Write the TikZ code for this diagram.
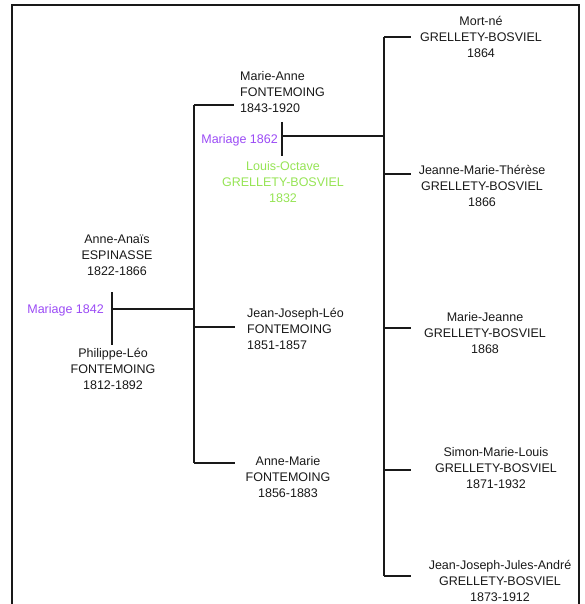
\documentclass[tikz,border=0pt]{standalone}
\usepackage{fontspec}
\setmainfont{Liberation Sans}
\definecolor{mariage}{RGB}{155,75,245}
\definecolor{conjoint}{RGB}{150,228,85}

\begin{document}
\begin{tikzpicture}[x=1pt, y=-1pt]
  \tikzset{
    personne/.style={align=center, inner sep=0pt, text=black!90, font=\fontsize{12.5}{16}\selectfont},
    gauche/.style={personne, align=left, anchor=west},
    noce/.style={anchor=east, inner sep=0pt, text=mariage, font=\fontsize{12.5}{16}\selectfont},
    lien/.style={line width=1.7pt, black!90}
  }
  \useasboundingbox (0,0) rectangle (585,604);

  % Cadre
  \draw[line width=2pt, black!90] (11.5,5) rectangle (578.5,640);

  % Couple 1842
  \node[personne] (anais) at (117,255) {Anne-Anaïs\\ESPINASSE\\1822-1866};
  \node[personne] (philippe) at (113,369) {Philippe-Léo\\FONTEMOING\\1812-1892};
  \node[noce] (mar1842) at (104,310) {Mariage 1842};

  % Enfants FONTEMOING
  \node[gauche] (marieanne) at (240,92) {Marie-Anne\\FONTEMOING\\1843-1920};
  \node[gauche] (jjleo) at (247,329) {Jean-Joseph-Léo\\FONTEMOING\\1851-1857};
  \node[personne] (annemarie) at (288,477) {Anne-Marie\\FONTEMOING\\1856-1883};

  % Couple 1862
  \node[noce] (mar1862) at (278,140) {Mariage 1862};
  \node[personne, text=conjoint] (louis) at (283,182) {Louis-Octave\\GRELLETY-BOSVIEL\\1832};

  % Enfants GRELLETY-BOSVIEL
  \node[personne] (mortne) at (481,37) {Mort-né\\GRELLETY-BOSVIEL\\1864};
  \node[personne] (jmtherese) at (482,186) {Jeanne-Marie-Thérèse\\GRELLETY-BOSVIEL\\1866};
  \node[personne] (mariejeanne) at (485,333) {Marie-Jeanne\\GRELLETY-BOSVIEL\\1868};
  \node[personne] (simon) at (496,468) {Simon-Marie-Louis\\GRELLETY-BOSVIEL\\1871-1932};
  \node[personne] (jjja) at (500,581) {Jean-Joseph-Jules-André\\GRELLETY-BOSVIEL\\1873-1912};

  % Points de jonction
  \coordinate (m42haut) at (112,292);
  \coordinate (m42bas) at (112,345);
  \coordinate (m42) at (112,309);
  \coordinate (f42) at (194,309);
  \coordinate (fhaut) at (194,105);
  \coordinate (fbas) at (194,463);
  \coordinate (m62haut) at (282,122);
  \coordinate (m62bas) at (282,156);
  \coordinate (m62) at (282,136);
  \coordinate (g62) at (384,136);
  \coordinate (ghaut) at (384,37);
  \coordinate (gbas) at (384,576);

  % Traits du couple 1842
  \draw[lien] (m42haut) -- (m42bas);
  \draw[lien] (m42) -- (f42);

  % Fratrie FONTEMOING
  \draw[lien] (fhaut) -- (fbas);
  \foreach \n/\y/\x in {marieanne/105/234, jjleo/327/235, annemarie/463/235}{
    \coordinate (b\n) at (\x,\y);
    \draw[lien] (fhaut |- b\n) -- (b\n);
  }

  % Traits du couple 1862
  \draw[lien] (m62haut) -- (m62bas);
  \draw[lien] (m62) -- (g62);

  % Fratrie GRELLETY-BOSVIEL
  \draw[lien] (ghaut) -- (gbas);
  \foreach \n/\y in {mortne/37, jmtherese/174, mariejeanne/328, simon/470, jjja/576}{
    \coordinate (b\n) at (411,\y);
    \draw[lien] (ghaut |- b\n) -- (b\n);
  }
\end{tikzpicture}
\end{document}
